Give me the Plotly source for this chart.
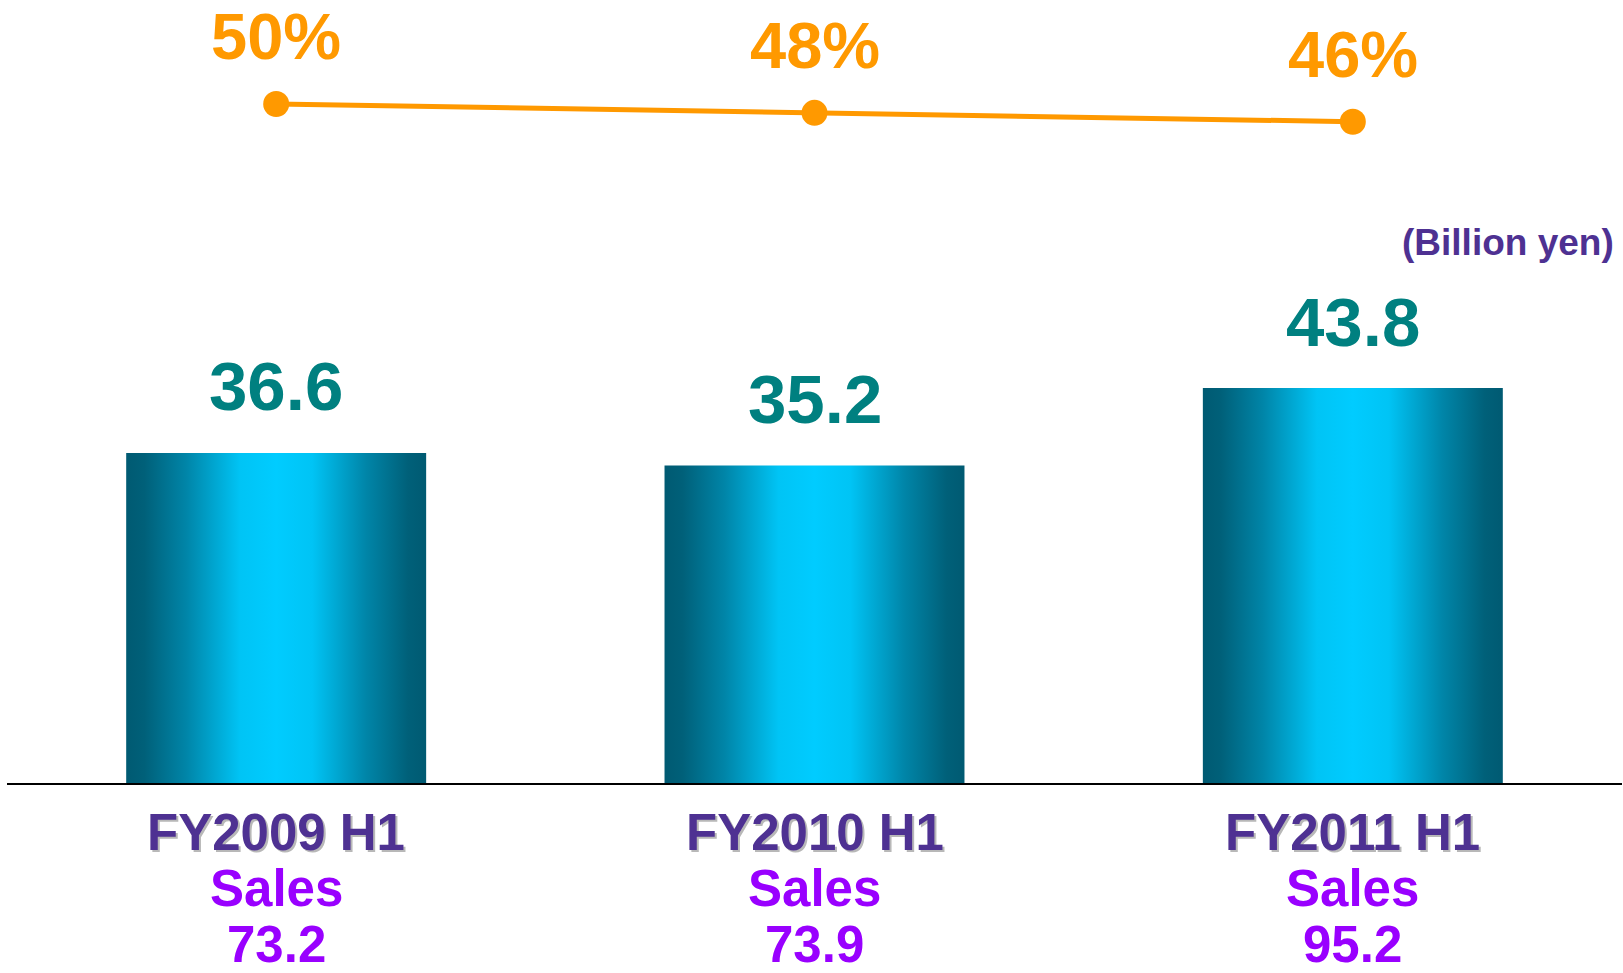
import plotly.graph_objects as go

# ---- data ----
categories = ["FY2009 H1", "FY2010 H1", "FY2011 H1"]
profit = [36.6, 35.2, 43.8]          # bar values (billion yen)
sales = [73.2, 73.9, 95.2]           # sales (billion yen)
ratio = [50, 48, 46]                 # ratio (%)
unit_label = "(Billion yen)"

# ---- style ----
FONT = "Liberation Sans, Arial, sans-serif"
TEAL_TXT = "#008080"
ORANGE = "#FF9900"
PURPLE_DARK = "#4E3192"
PURPLE_BRIGHT = "#9900FF"
BAR_HALF = 0.2786
grad = [[0.0, "#005a72"], [0.06, "#006079"], [0.2, "#0085a8"],
        [0.38, "#00c4f5"], [0.5, "#00ccff"], [0.62, "#00c4f5"],
        [0.8, "#0085a8"], [0.94, "#006079"], [1.0, "#005a72"]]

W, H = 1623, 973
ML, MR, MT, MB = 7, 1, 0, 190
plot_h = H - MT - MB

fig = go.Figure()

xs = list(range(len(categories)))
for i, v in zip(xs, profit):
    fig.add_trace(go.Scatter(
        x=[i - BAR_HALF, i + BAR_HALF, i + BAR_HALF, i - BAR_HALF, i - BAR_HALF],
        y=[0, 0, v, v, 0],
        mode="lines", fill="toself", line=dict(width=0),
        fillgradient=dict(type="horizontal", colorscale=grad),
        hoverinfo="skip", showlegend=False, yaxis="y"))

fig.add_trace(go.Scatter(
    x=xs, y=ratio, mode="lines+markers", yaxis="y2",
    line=dict(color=ORANGE, width=5),
    marker=dict(color=ORANGE, size=26),
    showlegend=False, hoverinfo="skip"))

ann = []
# value labels above bars
for i, v in zip(xs, profit):
    ann.append(dict(x=i, y=v, xref="x", yref="y", text=f"{v:.1f}",
                    showarrow=False, yanchor="middle", yshift=66,
                    font=dict(family=FONT, size=69, color=TEAL_TXT, weight=700)))
# percent labels
for i, r in zip(xs, ratio):
    ann.append(dict(x=i, y=r, xref="x", yref="y2", text=f"{r}%",
                    showarrow=False, yanchor="middle", yshift=67.5, borderpad=0,
                    font=dict(family=FONT, size=65, color=ORANGE, weight=700)))

def py(px_from_top):
    return (H - MB - px_from_top) / plot_h

CAT_SIZE = 51
# category labels (with shadow), sales lines
for i, c, s in zip(xs, categories, sales):
    ann.append(dict(x=i, y=py(832), xref="x", yref="paper", text=c,
                    showarrow=False, yanchor="middle", xshift=2, yshift=-2, borderpad=0,
                    font=dict(family=FONT, size=CAT_SIZE, color="#b8b8b8", weight=700)))
    ann.append(dict(x=i, y=py(832), xref="x", yref="paper", text=c,
                    showarrow=False, yanchor="middle", borderpad=0,
                    font=dict(family=FONT, size=CAT_SIZE, color=PURPLE_DARK, weight=700)))
    ann.append(dict(x=i, y=py(888.5), xref="x", yref="paper", text="Sales",
                    showarrow=False, yanchor="middle", borderpad=0,
                    font=dict(family=FONT, size=CAT_SIZE, color=PURPLE_BRIGHT, weight=700)))
    ann.append(dict(x=i, y=py(944.5), xref="x", yref="paper", text=f"{s:.1f}",
                    showarrow=False, yanchor="middle", borderpad=0,
                    font=dict(family=FONT, size=CAT_SIZE, color=PURPLE_BRIGHT, weight=700)))

ann.append(dict(x=(1616 - ML) / (W - ML - MR), y=py(242), xref="paper", yref="paper",
                text=unit_label, showarrow=False, xanchor="right", yanchor="middle",
                font=dict(family=FONT, size=37, color=PURPLE_DARK, weight=700)))

fig.update_layout(
    width=W, height=H,
    margin=dict(l=ML, r=MR, t=MT, b=MB, pad=0),
    paper_bgcolor="white", plot_bgcolor="white",
    xaxis=dict(range=[-0.5, 2.5], showgrid=False, zeroline=False,
               showticklabels=False, ticks="", showline=True,
               linecolor="black", linewidth=2, fixedrange=True),
    yaxis=dict(range=[0, 86.84], visible=False, fixedrange=True),
    yaxis2=dict(range=[-103.4, 73.5], overlaying="y", visible=False, fixedrange=True),
    annotations=ann,
    showlegend=False,
)

fig.write_html("out.html", config={"displayModeBar": False})
